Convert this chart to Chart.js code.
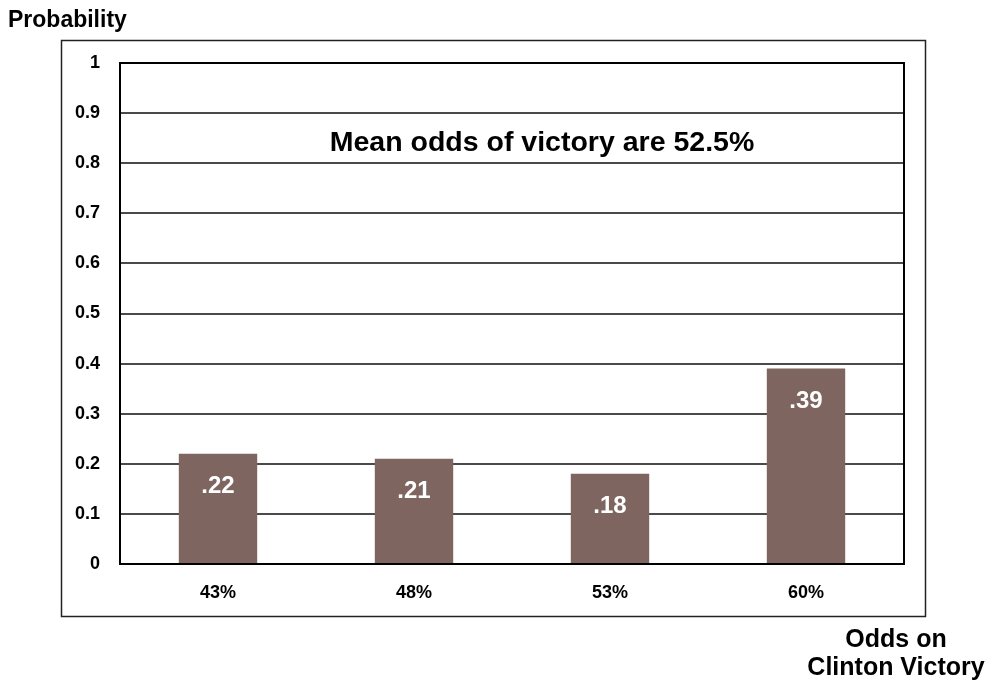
<!DOCTYPE html>
<html>
<head>
<meta charset="utf-8">
<script src="https://cdn.jsdelivr.net/npm/chart.js@4/dist/chart.umd.min.js"></script>
<style>
  html, body { margin: 0; padding: 0; background: #fff; }
  #wrap { width: 990px; height: 685px; }
</style>
</head>
<body>
<div id="wrap"><canvas id="c" width="990" height="685"></canvas></div>
<script>
// Odds buckets on a Clinton victory and their probabilities
const categories = ['43%', '48%', '53%', '60%'];
const probabilities = [0.22, 0.21, 0.18, 0.39];
const valueLabels = ['.22', '.21', '.18', '.39'];
const yTicks = [0, 0.1, 0.2, 0.3, 0.4, 0.5, 0.6, 0.7, 0.8, 0.9, 1];

const FONT = '"Liberation Sans", Arial, sans-serif';
const BAR_COLOR = '#7e6560';

// Frame, plot border, value labels and free-standing texts
const decorations = {
  id: 'decorations',
  afterDatasetsDraw(chart) {
    const { ctx, chartArea: a } = chart;
    ctx.save();
    // value labels inside the bars
    const meta = chart.getDatasetMeta(0);
    ctx.fillStyle = '#ffffff';
    ctx.font = 'bold 24px ' + FONT;
    ctx.textAlign = 'center';
    ctx.textBaseline = 'middle';
    meta.data.forEach((bar, i) => {
      ctx.fillText(valueLabels[i], bar.x, bar.y + 33);
    });
    // plot area border
    ctx.strokeStyle = '#000';
    ctx.lineWidth = 2;
    ctx.strokeRect(a.left, a.top, a.right - a.left, a.bottom - a.top);
    // outer frame
    ctx.lineWidth = 1.5;
    ctx.strokeStyle = '#222';
    ctx.strokeRect(61.5, 40.5, 864, 576);
    // texts
    ctx.fillStyle = '#000';
    ctx.font = 'bold 23px ' + FONT;
    ctx.textAlign = 'left';
    ctx.fillText('Probability', 8, 21);
    ctx.font = 'bold 28.5px ' + FONT;
    ctx.textAlign = 'center';
    ctx.fillText('Mean odds of victory are 52.5%', 542, 143);
    ctx.font = 'bold 25px ' + FONT;
    ctx.fillText('Odds on', 896, 640);
    ctx.fillText('Clinton Victory', 896, 668);
    ctx.restore();
  }
};

new Chart(document.getElementById('c'), {
  type: 'bar',
  data: {
    labels: categories,
    datasets: [{
      data: probabilities,
      backgroundColor: BAR_COLOR,
      borderWidth: 0,
      categoryPercentage: 1,
      barPercentage: 0.4
    }]
  },
  options: {
    responsive: false,
    animation: false,
    devicePixelRatio: 1,
    layout: { padding: { top: 63, right: 86, bottom: 0, left: 0 } },
    plugins: { legend: { display: false }, tooltip: { enabled: false } },
    scales: {
      x: {
        grid: { display: false, drawTicks: false },
        border: { display: false },
        ticks: { color: '#000', font: { family: FONT, weight: 'bold', size: 18 }, padding: 18 },
        afterFit(scale) { scale.height = 121; }
      },
      y: {
        min: 0,
        max: 1,
        afterBuildTicks(scale) { scale.ticks = yTicks.map(v => ({ value: v })); },
        grid: { color: '#4a4a4a', lineWidth: 2, drawTicks: false },
        border: { display: false },
        ticks: {
          color: '#000',
          font: { family: FONT, weight: 'bold', size: 18 },
          padding: 20,
          callback: v => String(v)
        },
        afterFit(scale) { scale.width = 120; }
      }
    }
  },
  plugins: [decorations]
});
</script>
</body>
</html>
